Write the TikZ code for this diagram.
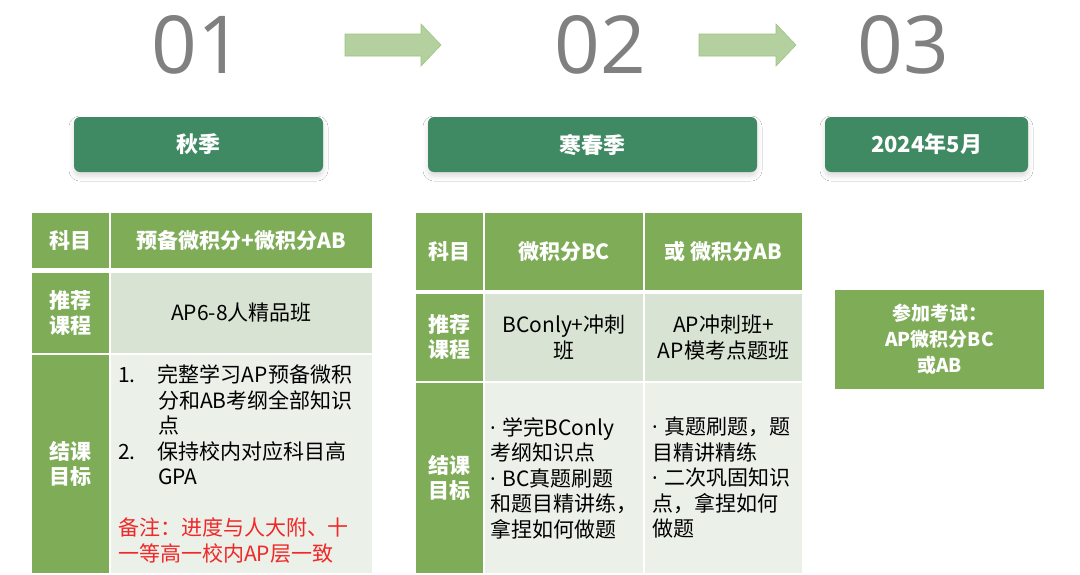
\documentclass[tikz,border=0pt]{standalone}
\usepackage{fontspec}
\setmainfont{Noto Sans CJK SC}
\newfontfamily\numfont{Open Sans}
\usetikzlibrary{shadows.blur}

\definecolor{darkgreen}{HTML}{408A63}
\definecolor{tabgreen}{HTML}{7EAC57}
\definecolor{rowmid}{HTML}{D8E3D3}
\definecolor{rowlight}{HTML}{EBF0E9}
\definecolor{numgray}{HTML}{808080}
\definecolor{arrowfill}{HTML}{B3D09E}
\definecolor{arrowline}{HTML}{9DC486}
\definecolor{notered}{HTML}{F02828}

\begin{document}
\begin{tikzpicture}[x=1pt,y=-1pt,
  numtxt/.style={inner sep=0pt, text=numgray, font=\numfont\fontsize{80}{80}\selectfont},
  steparrow/.style={fill=arrowfill, draw=arrowline, line width=0.6pt, line join=miter},
  season/.style={rounded corners=6pt, fill=darkgreen, text=white, inner sep=0pt,
    minimum height=55pt, font=\bfseries\fontsize{22}{26}\selectfont,
    blur shadow={shadow xshift=0pt, shadow yshift=-4pt, shadow blur radius=5pt, shadow opacity=14}},
  cell/.style={inner sep=0pt, align=center, font=\fontsize{21}{25.5}\selectfont},
  headcell/.style={cell, fill=tabgreen, text=white, font=\bfseries\fontsize{21}{25}\selectfont},
  midcell/.style={cell, fill=rowmid},
  goalcell/.style={cell, fill=rowlight, align=left},
]
\fill[white] (0,0) rectangle (1080,574);
\useasboundingbox (0,0) rectangle (1080,574);

% step numbers and arrows
\node[numtxt] (n01) at (197,45) {01};
\node[numtxt] (n02) at (600,45) {02};
\node[numtxt] (n03) at (903,45) {03};
\coordinate (arr12) at (345,45);
\coordinate (arr23) at (699,45);
\draw[steparrow] (arr12) ++(0,-11) -- ++(76,0) -- ++(0,-10) -- ++(20,21)
  -- ++(-20,21) -- ++(0,-10) -- ++(-76,0) -- cycle;
\draw[steparrow] (arr23) ++(0,-11) -- ++(77,0) -- ++(0,-10) -- ++(20,21)
  -- ++(-20,21) -- ++(0,-10) -- ++(-77,0) -- cycle;

% seasons
\node[season, minimum width=249pt] (autumn) at (198.5,144.5) {秋季};
\node[season, minimum width=329pt] (winter) at (592.5,144.5) {寒春季};
\node[season, minimum width=203pt] (may) at (926.5,144.5) {2024年5月};

% table autumn
\node[headcell, minimum width=77pt, minimum height=55pt] (t1km) at (70.5,240.5) {科目};
\node[headcell, minimum width=261pt, minimum height=55pt] (t1sub) at (241.5,240.5) {预备微积分+微积分AB};
\node[headcell, minimum width=77pt, minimum height=80pt] (t1tj) at (70.5,313) {推荐\\课程};
\node[midcell, minimum width=261pt, minimum height=80pt] (t1course) at (241.5,313) {AP6-8人精品班};
\node[headcell, minimum width=77pt, minimum height=218pt] (t1mb) at (70.5,464) {结课\\目标};
\node[goalcell, minimum width=261pt, minimum height=218pt, text width=247pt] (t1goal) at (241.5,464)
  {\makebox[40pt][l]{1.}完整学习AP预备微积\\
   \hspace*{40pt}分和AB考纲全部知识\\
   \hspace*{40pt}点\\
   \makebox[40pt][l]{2.}保持校内对应科目高\\
   \hspace*{40pt}GPA\\[25.5pt]
   \textcolor{notered}{备注：进度与人大附、十}\\
   \textcolor{notered}{一等高一校内AP层一致}};

% table winter/spring
\node[headcell, minimum width=67pt, minimum height=77pt] (t2km) at (449.5,251.5) {科目};
\node[headcell, minimum width=158pt, minimum height=77pt] (t2bc) at (564,251.5) {微积分BC};
\node[headcell, minimum width=157pt, minimum height=77pt] (t2ab) at (723.5,251.5) {或 微积分AB};
\node[headcell, minimum width=67pt, minimum height=87pt] (t2tj) at (449.5,337.5) {推荐\\课程};
\node[midcell, minimum width=158pt, minimum height=87pt] (t2bccourse) at (564,337.5) {BConly+冲刺\\班};
\node[midcell, minimum width=157pt, minimum height=87pt] (t2abcourse) at (723.5,337.5) {AP冲刺班+\\AP模考点题班};
\node[headcell, minimum width=67pt, minimum height=190pt] (t2mb) at (449.5,478) {结课\\目标};
\node[goalcell, minimum width=158pt, minimum height=190pt, text width=148pt] (t2bcgoal) at (564,478)
  {{\numfont·} 学完BConly\\考纲知识点\\{\numfont·} BC真题刷题\\和题目精讲练，\\拿捏如何做题};
\node[goalcell, minimum width=157pt, minimum height=190pt, text width=143pt] (t2abgoal) at (723.5,478)
  {{\numfont·} 真题刷题，题\\目精讲精练\\{\numfont·} 二次巩固知识\\点，拿捏如何\\做题};

% exam
\node[headcell, minimum width=209pt, minimum height=99pt, font=\bfseries\fontsize{19}{26}\selectfont]
  (examinfo) at (939.5,339.5) {参加考试：\\AP微积分BC\\或AB};
\end{tikzpicture}
\end{document}
